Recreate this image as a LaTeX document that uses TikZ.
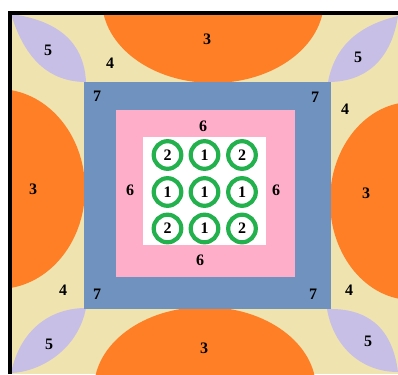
\documentclass[tikz,border=0pt]{standalone}
\usepackage{fontspec}
\setmainfont{Liberation Serif}
\usepackage{tikz}
\usepackage{xcolor}

\definecolor{sand}{HTML}{EFE4B0}
\definecolor{tangerine}{HTML}{FF7F27}
\definecolor{lilac}{HTML}{C8BFE7}
\definecolor{steel}{HTML}{7092BE}
\definecolor{rose}{HTML}{FFAEC9}
\definecolor{leafgreen}{HTML}{22B14C}

\begin{document}
\begin{tikzpicture}[x=1pt, y=-1pt,
  num/.style={font=\bfseries\fontsize{16}{16}\selectfont, inner sep=0pt},
  ring/.style={circle, draw=leafgreen, line width=4.2pt, fill=white,
    minimum size=27.6pt, inner sep=0pt, font=\bfseries\fontsize{16}{16}\selectfont}]
  \useasboundingbox[fill=white] (0,0) rectangle (398,374);

  % ground
  \fill[sand] (10,13) rectangle (398,374);
  \begin{scope}
    \clip (10,13) rectangle (398,374);
    \fill[tangerine] (213,0) ellipse [x radius=111, y radius=83];
    \fill[tangerine] (205,389) ellipse [x radius=111, y radius=82];
    \fill[tangerine] (-2,189) ellipse [x radius=87, y radius=100];
    \fill[tangerine] (412,201) ellipse [x radius=82, y radius=99];
  \end{scope}

  % corner leaves
  \fill[lilac] (11,14) .. controls (55,20) and (84,40) .. (86,82)
    .. controls (50,82) and (25,60) .. (11,14);
  \fill[lilac] (328,82) .. controls (335,45) and (360,25) .. (398,16)
    .. controls (392,55) and (370,82) .. (328,82);
  \fill[lilac] (86,308) .. controls (50,308) and (20,330) .. (11,373)
    .. controls (40,372) and (78,350) .. (86,308);
  \fill[lilac] (327,309) .. controls (365,308) and (392,325) .. (398,372)
    .. controls (360,372) and (333,345) .. (327,309);

  % squares
  \fill[steel] (84,82) rectangle (331,309);
  \fill[rose] (116,110) rectangle (295,277);
  \fill[white] (143,137) rectangle (266,245);

  \foreach \x/\y/\lab/\nm in {167.5/155/2/c11, 204.5/155/1/c12, 242/155/2/c13,
                              167.5/192/1/c21, 204.5/192/1/c22, 242/192/1/c23,
                              167.5/228.5/2/c31, 204.5/228.5/1/c32, 242/228.5/2/c33}
    \node[ring] (\nm) at (\x,\y) {\lab};

  % frame
  \draw[line width=4pt] (10,374) -- (10,13) -- (398,13);

  % labels
  \node[num] (n3top) at (207,39) {3};
  \node[num] (n3bot) at (204,348) {3};
  \node[num] (n3lft) at (33,189) {3};
  \node[num] (n3rgt) at (366,193) {3};
  \node[num] (n5tl) at (48,50) {5};
  \node[num] (n5tr) at (358,57) {5};
  \node[num] (n5bl) at (49,344) {5};
  \node[num] (n5br) at (368,341) {5};
  \node[num] (n4tl) at (110,63) {4};
  \node[num] (n4tr) at (345,109) {4};
  \node[num] (n4bl) at (63,290) {4};
  \node[num] (n4br) at (349,290) {4};
  \node[num] (n7tl) at (97,96) {7};
  \node[num] (n7tr) at (315,97) {7};
  \node[num] (n7bl) at (97,294) {7};
  \node[num] (n7br) at (313,294) {7};
  \node[num] (n6top) at (203,126) {6};
  \node[num] (n6bot) at (200,260) {6};
  \node[num] (n6lft) at (130,190) {6};
  \node[num] (n6rgt) at (276,190) {6};
\end{tikzpicture}
\end{document}
